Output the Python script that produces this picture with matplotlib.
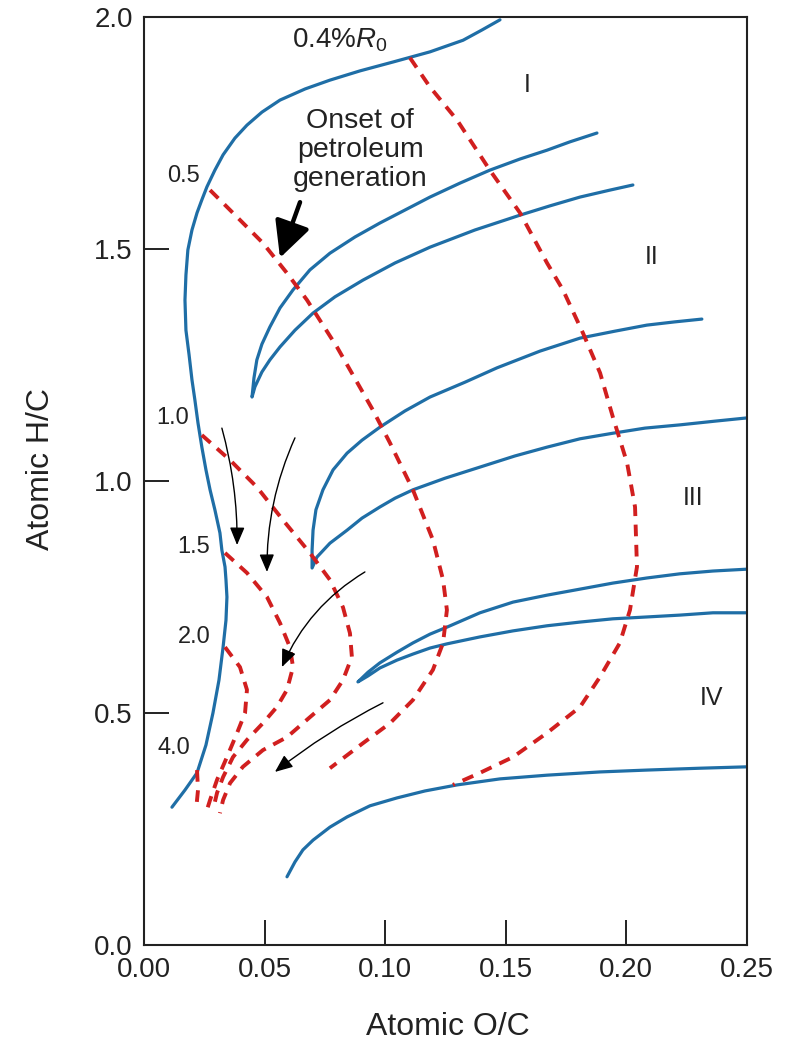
import matplotlib
matplotlib.use("Agg")
import matplotlib.pyplot as plt

plt.rcParams['font.family'] = ['Liberation Sans', 'DejaVu Sans']
plt.rcParams['mathtext.fontset'] = 'custom'
plt.rcParams['mathtext.rm'] = 'Liberation Sans'
plt.rcParams['mathtext.it'] = 'Liberation Sans:italic'

# ---- data (atomic O/C, atomic H/C) ----
type1_oc = [0.0116, 0.0170, 0.0220, 0.0257, 0.0286, 0.0311, 0.0328, 0.0340, 0.0344, 0.0340,
            0.0336, 0.0323, 0.0315, 0.0294, 0.0274, 0.0257, 0.0240, 0.0224, 0.0211, 0.0199,
            0.0187, 0.0174, 0.0170, 0.0174, 0.0182, 0.0199, 0.0220, 0.0240, 0.0261, 0.0294,
            0.0328, 0.0377, 0.0427, 0.0489, 0.0564, 0.0668, 0.0771, 0.0896, 0.1032, 0.1186,
            0.1323, 0.1401, 0.1476]
type1_hc = [0.297, 0.334, 0.371, 0.431, 0.500, 0.571, 0.642, 0.700, 0.750, 0.787,
            0.815, 0.851, 0.888, 0.938, 0.981, 1.024, 1.073, 1.125, 1.175, 1.218,
            1.272, 1.325, 1.390, 1.444, 1.498, 1.541, 1.578, 1.606, 1.634, 1.670,
            1.703, 1.739, 1.767, 1.795, 1.821, 1.845, 1.864, 1.884, 1.903, 1.925,
            1.950, 1.972, 1.994]

type2_oc = [0.1878, 0.1766, 0.1671, 0.1559, 0.1434, 0.1310, 0.1186, 0.1082, 0.0978, 0.0875,
            0.0771, 0.0688, 0.0618, 0.0564, 0.0522, 0.0489, 0.0468, 0.0456, 0.0448,
            0.0460, 0.0489, 0.0522, 0.0564, 0.0626, 0.0701, 0.0792, 0.0908, 0.1041, 0.1186,
            0.1372, 0.1559, 0.1683, 0.1808, 0.1932, 0.2027]
type2_hc = [1.750, 1.731, 1.713, 1.694, 1.670, 1.642, 1.612, 1.584, 1.556, 1.526,
            1.491, 1.455, 1.412, 1.373, 1.332, 1.295, 1.261, 1.222, 1.181,
            1.203, 1.235, 1.261, 1.289, 1.325, 1.362, 1.397, 1.433, 1.470, 1.504,
            1.541, 1.573, 1.593, 1.612, 1.627, 1.638]

type3_oc = [0.2313, 0.2201, 0.2085, 0.1953, 0.1808, 0.1642, 0.1464, 0.1331, 0.1186, 0.1082,
            0.0978, 0.0904, 0.0842, 0.0784, 0.0742, 0.0713, 0.0701, 0.0697, 0.0697,
            0.0717, 0.0771, 0.0842, 0.0904, 0.0978, 0.1041, 0.1115, 0.1248, 0.1393, 0.1538,
            0.1671, 0.1808, 0.1944, 0.2077, 0.2222, 0.2367, 0.2500]
type3_hc = [1.349, 1.343, 1.336, 1.323, 1.308, 1.280, 1.244, 1.213, 1.181, 1.151,
            1.116, 1.088, 1.060, 1.024, 0.981, 0.938, 0.894, 0.851, 0.8125,
            0.836, 0.866, 0.894, 0.920, 0.944, 0.963, 0.981, 1.006, 1.030, 1.054,
            1.073, 1.091, 1.103, 1.114, 1.121, 1.129, 1.136]

type4a_oc = [0.2500, 0.2359, 0.2222, 0.2085, 0.1944, 0.1808, 0.1671, 0.1530, 0.1393, 0.1256,
             0.1186, 0.1115, 0.1049, 0.0978, 0.0929, 0.0887,
             0.0929, 0.0978, 0.1049, 0.1115, 0.1186, 0.1256, 0.1393, 0.1530, 0.1671,
             0.1808, 0.1944, 0.2085, 0.2222, 0.2359, 0.2500]
type4a_hc = [0.810, 0.806, 0.800, 0.791, 0.780, 0.767, 0.754, 0.739, 0.716, 0.685,
             0.670, 0.651, 0.631, 0.608, 0.588, 0.567,
             0.580, 0.597, 0.614, 0.627, 0.640, 0.649, 0.664, 0.677, 0.688,
             0.696, 0.703, 0.707, 0.711, 0.716, 0.716]

type4b_oc = [0.0593, 0.0626, 0.0659, 0.0701, 0.0771, 0.0842, 0.0937, 0.1049, 0.1165, 0.1298,
             0.1476, 0.1671, 0.1891, 0.2085, 0.2305, 0.2500]
type4b_hc = [0.147, 0.179, 0.205, 0.226, 0.254, 0.276, 0.300, 0.317, 0.332, 0.345,
             0.358, 0.366, 0.373, 0.377, 0.381, 0.384]

# vitrinite reflectance iso-lines (%Ro)
ro04_oc = [0.1103, 0.1186, 0.1298, 0.1434, 0.1559, 0.1671, 0.1737, 0.1820, 0.1891, 0.1944,
           0.2003, 0.2036, 0.2044, 0.2015, 0.1973, 0.1891, 0.1808, 0.1671, 0.1530, 0.1393, 0.1281]
ro04_hc = [1.912, 1.849, 1.778, 1.670, 1.578, 1.470, 1.412, 1.319, 1.233, 1.138,
           1.039, 0.944, 0.815, 0.722, 0.651, 0.578, 0.513, 0.457, 0.405, 0.371, 0.345]

ro05_oc = [0.0274, 0.0357, 0.0493, 0.0593, 0.0676, 0.0800, 0.0949, 0.1020, 0.1115, 0.1198,
           0.1240, 0.1256, 0.1240, 0.1198, 0.1115, 0.1020, 0.0908, 0.0771]
ro05_hc = [1.627, 1.584, 1.513, 1.448, 1.390, 1.289, 1.153, 1.082, 0.981, 0.873,
           0.787, 0.722, 0.651, 0.593, 0.528, 0.478, 0.435, 0.381]

ro10_oc = [0.0240, 0.0357, 0.0468, 0.0576, 0.0688, 0.0771, 0.0825, 0.0854, 0.0862, 0.0825,
           0.0771, 0.0688, 0.0593, 0.0493, 0.0410, 0.0357, 0.0328, 0.0315]
ro10_hc = [1.099, 1.045, 0.987, 0.916, 0.845, 0.787, 0.728, 0.672, 0.621, 0.571,
           0.528, 0.491, 0.448, 0.420, 0.384, 0.349, 0.3125, 0.284]

ro15_oc = [0.0336, 0.0427, 0.0510, 0.0564, 0.0605, 0.0618, 0.0593, 0.0551, 0.0493, 0.0427,
           0.0369, 0.0328, 0.0303, 0.0286]
ro15_hc = [0.845, 0.802, 0.750, 0.694, 0.642, 0.599, 0.550, 0.513, 0.478, 0.442,
           0.405, 0.362, 0.328, 0.291]

ro20_oc = [0.0336, 0.0398, 0.0427, 0.0419, 0.0386, 0.0344, 0.0303, 0.0274, 0.0261]
ro20_hc = [0.642, 0.599, 0.550, 0.500, 0.457, 0.405, 0.356, 0.3125, 0.291]

ro40_oc = [0.0220, 0.0224, 0.0216]
ro40_hc = [0.377, 0.334, 0.291]

ro_labels = ['0.5', '1.0', '1.5', '2.0', '4.0']
ro_label_oc = [0.0162, 0.0120, 0.0207, 0.0207, 0.0124]
ro_label_hc = [1.657, 1.136, 0.858, 0.664, 0.425]

type_labels = ['I', 'II', 'III', 'IV']
type_label_oc = [0.1588, 0.2106, 0.2276, 0.2355]
type_label_hc = [1.853, 1.483, 0.963, 0.532]

# maturation arrows
arrow_tail_oc = [0.0323, 0.0626, 0.0916, 0.0991]
arrow_tail_hc = [1.114, 1.093, 0.804, 0.522]
arrow_head_oc = [0.0386, 0.0510, 0.0572, 0.0543]
arrow_head_hc = [0.862, 0.804, 0.599, 0.373]
arrow_rad = [-0.07, 0.11, 0.16, 0.05]

x_ticks = [0.00, 0.05, 0.10, 0.15, 0.20, 0.25]
x_ticklabels = ['0.00', '0.05', '0.10', '0.15', '0.20', '0.25']
y_ticks = [0.0, 0.5, 1.0, 1.5, 2.0]
y_ticklabels = ['0.0', '0.5', '1.0', '1.5', '2.0']

BLUE = '#1f6ea6'
RED = '#d11f1f'
INK = '#222222'

fig = plt.figure(figsize=(8.07, 10.45), dpi=100)
ax = fig.add_axes([0.1784, 0.0957, 0.7472, 0.8880])

for xs, ys in [(type1_oc, type1_hc), (type2_oc, type2_hc), (type3_oc, type3_hc),
               (type4a_oc, type4a_hc), (type4b_oc, type4b_hc)]:
    ax.plot(xs, ys, color=BLUE, lw=2.3, solid_capstyle='round', solid_joinstyle='round',
            zorder=2)

for xs, ys in [(ro04_oc, ro04_hc), (ro05_oc, ro05_hc), (ro10_oc, ro10_hc),
               (ro15_oc, ro15_hc), (ro20_oc, ro20_hc), (ro40_oc, ro40_hc)]:
    ax.plot(xs, ys, color=RED, lw=2.8, dashes=(3.0, 2.2), zorder=3)

for t, x, y in zip(ro_labels, ro_label_oc, ro_label_hc):
    ax.text(x, y, t, fontsize=17, ha='center', va='center', color=INK, zorder=5)

for t, x, y in zip(type_labels, type_label_oc, type_label_hc):
    ax.text(x, y, t, fontsize=18, ha='center', va='center', color=INK, zorder=5)

ax.text(0.0614, 1.935, '0.4%$R_0$', fontsize=20, ha='left', va='baseline', color=INK)
ax.text(0.0896, 1.713, 'Onset of\npetroleum\ngeneration', fontsize=20.5, ha='center',
        va='center', multialignment='center', linespacing=1.15, color=INK)

# onset arrow
ax.annotate('', xy=(0.0564, 1.481), xytext=(0.0647, 1.601),
            arrowprops=dict(arrowstyle='-|>,head_length=1.1,head_width=0.55',
                            lw=3.2, color='black', mutation_scale=20,
                            shrinkA=0, shrinkB=0))

for tx, ty, hx, hy, r in zip(arrow_tail_oc, arrow_tail_hc, arrow_head_oc, arrow_head_hc, arrow_rad):
    ax.annotate('', xy=(hx, hy), xytext=(tx, ty),
                arrowprops=dict(arrowstyle='-|>,head_length=0.6,head_width=0.25',
                                lw=1.0, color='black', mutation_scale=18,
                                shrinkA=0, shrinkB=0,
                                connectionstyle=f'arc3,rad={r}'), zorder=6)

ax.set_xlim(0, 0.25)
ax.set_ylim(0, 2.0)
ax.set_xticks(x_ticks)
ax.set_xticklabels(x_ticklabels)
ax.set_yticks(y_ticks)
ax.set_yticklabels(y_ticklabels)
ax.tick_params(direction='in', length=18, width=1.4, labelsize=20, color=INK,
               labelcolor=INK)
ax.tick_params(axis='x', pad=9)
ax.tick_params(axis='y', pad=8)
for s in ax.spines.values():
    s.set_linewidth(1.5)
    s.set_color(INK)

ax.set_xlabel('Atomic O/C', fontsize=23, color=INK, va='center')
ax.xaxis.set_label_coords(0.504, -0.088)
ax.set_ylabel('Atomic H/C', fontsize=23, color=INK, va='center', ha='center')
ax.yaxis.set_label_coords(-0.171, 0.513)

fig.savefig('out.png', dpi=100, facecolor='white')
